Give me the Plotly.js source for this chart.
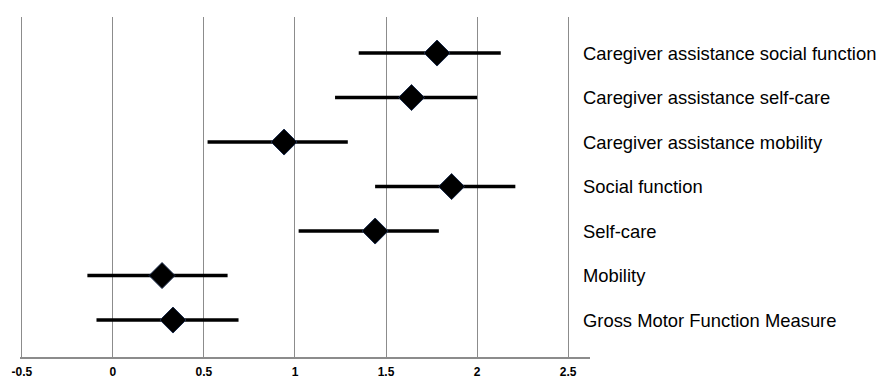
<!DOCTYPE html>
<html>
<head>
<meta charset="utf-8">
<script src="https://cdn.plot.ly/plotly-3.0.1.min.js"></script>
<style>html,body{margin:0;padding:0;background:#fff;}#chart{width:880px;height:381px;}</style>
</head>
<body>
<div id="chart"></div>
<script>
// Outcomes, top to bottom
const outcomes = [
  "Caregiver assistance social function",
  "Caregiver assistance self-care",
  "Caregiver assistance mobility",
  "Social function",
  "Self-care",
  "Mobility",
  "Gross Motor Function Measure"
];
const estimate = [1.78, 1.64, 0.94, 1.86, 1.44, 0.27, 0.33];
const ciLower  = [1.35, 1.22, 0.52, 1.44, 1.02, -0.14, -0.09];
const ciUpper  = [2.13, 2.00, 1.29, 2.21, 1.79, 0.63, 0.69];
const xTicks   = [-0.5, 0, 0.5, 1, 1.5, 2, 2.5];
const xTickText = ["-0.5", "0", "0.5", "1", "1.5", "2", "2.5"];

const trace = {
  type: "scatter",
  mode: "markers",
  x: estimate,
  y: outcomes,
  marker: {symbol: "diamond", size: 20, color: "#000000", line: {color: "#1c2c4c", width: 1}},
  error_x: {
    type: "data", symmetric: false,
    array: estimate.map((v, i) => ciUpper[i] - v),
    arrayminus: estimate.map((v, i) => v - ciLower[i]),
    color: "#000000", thickness: 3.5, width: 0
  },
  hoverinfo: "x+y",
  showlegend: false
};

const layout = {
  width: 880, height: 381,
  margin: {l: 20, r: 290, t: 17, b: 24},
  paper_bgcolor: "#ffffff", plot_bgcolor: "#ffffff",
  xaxis: {
    range: [-0.51, 2.62],
    tickvals: xTicks, ticktext: xTickText,
    showgrid: true, gridcolor: "#8c8c8c", gridwidth: 1,
    zeroline: false,
    showline: true, linecolor: "#8c8c8c", linewidth: 2,
    ticks: "", ticklabelstandoff: 3,
    tickfont: {family: "Liberation Sans, Arial, sans-serif", size: 12, color: "#000", weight: 700}
  },
  yaxis: {
    type: "category",
    categoryorder: "array", categoryarray: outcomes,
    range: [6.83, -0.81],
    showgrid: false, zeroline: false, showline: false,
    showticklabels: false, ticks: ""
  },
  annotations: outcomes.map(o => ({
    text: o, x: 1, xref: "paper", xshift: -9, xanchor: "left",
    y: o, yref: "y", yanchor: "middle", showarrow: false,
    font: {family: "Liberation Sans, Arial, sans-serif", size: 18.4, color: "#000"}
  }))
};

Plotly.newPlot("chart", [trace], layout, {displayModeBar: false, staticPlot: true});
</script>
</body>
</html>
